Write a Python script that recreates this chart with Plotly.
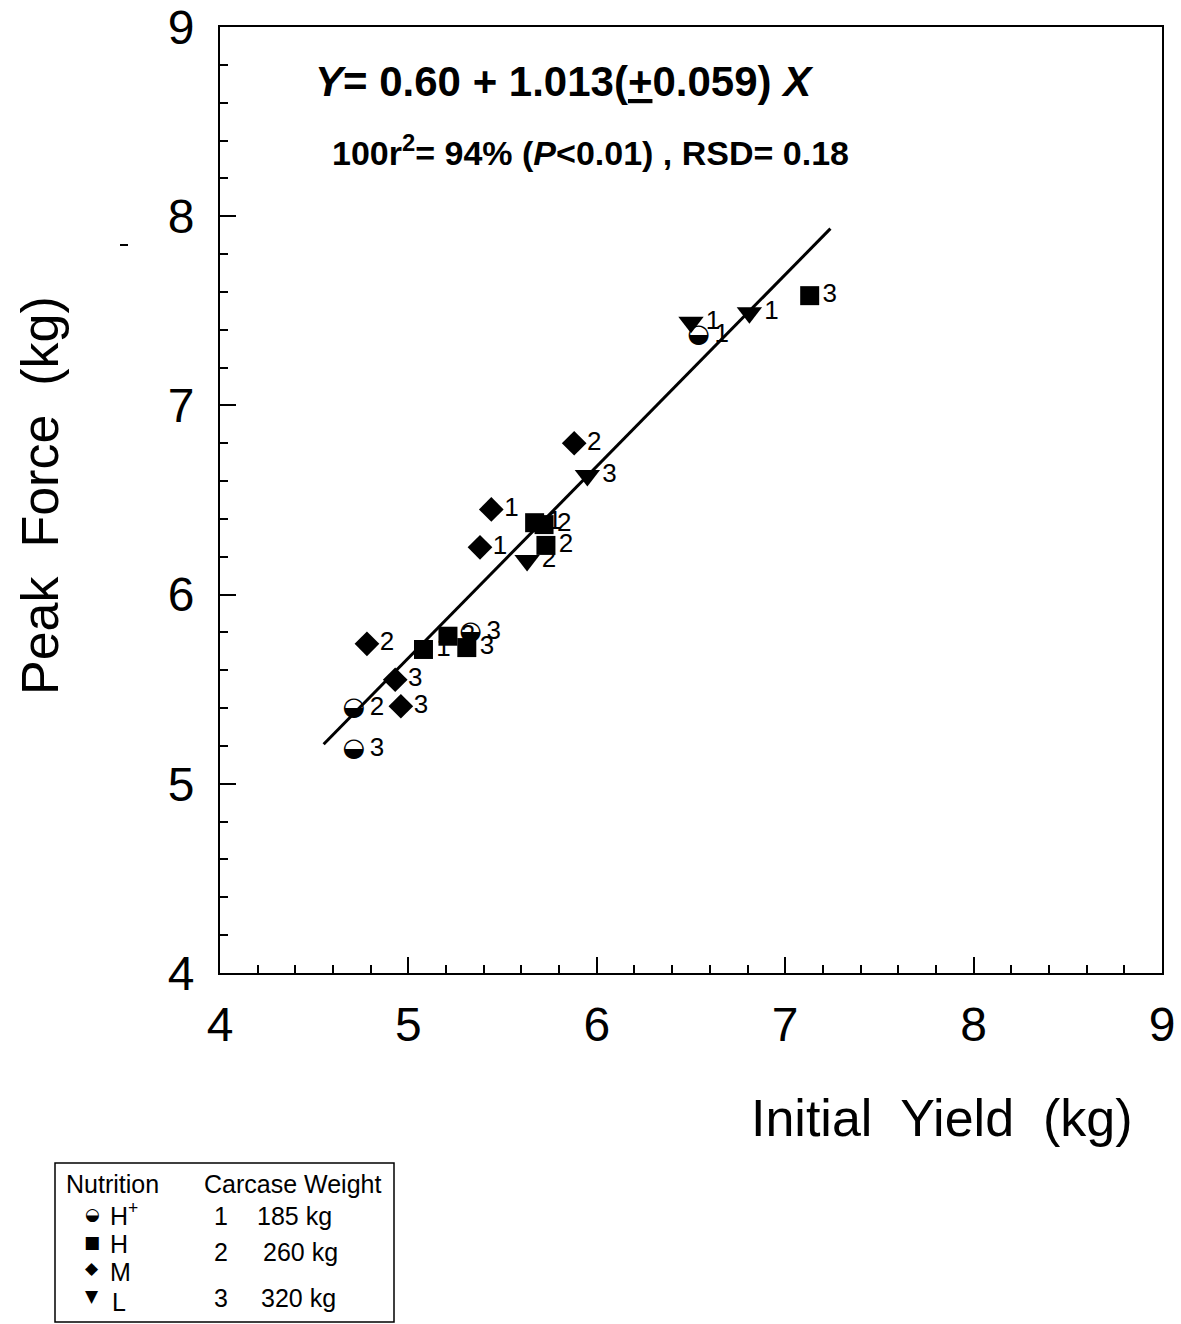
import plotly.graph_objects as go

# ---------------- data ----------------
# Nutrition H+ (half-filled circle)
hp_x = [4.71, 4.71, 6.54, 5.33]
hp_y = [5.40, 5.18, 7.37, 5.80]
hp_lab = ["2", "3", "1", "3"]

# Nutrition H (filled square)
h_x = [5.08, 5.21, 5.31, 5.67, 5.72, 5.73, 7.13]
h_y = [5.71, 5.78, 5.72, 6.38, 6.37, 6.26, 7.58]
h_lab = ["1", "2", "3", "1", "2", "2", "3"]

# Nutrition M (filled diamond)
m_x = [4.78, 4.93, 4.96, 5.38, 5.44, 5.88]
m_y = [5.74, 5.55, 5.41, 6.25, 6.45, 6.80]
m_lab = ["2", "3", "3", "1", "1", "2"]

# Nutrition L (filled down-triangle)
l_x = [6.50, 6.81, 5.95, 5.63]
l_y = [7.44, 7.49, 6.63, 6.18]
l_lab = ["1", "1", "3", "2"]

# regression Y = a + b X
intercept = 0.60
slope = 1.013
line_x = [4.55, 7.24]
line_y = [intercept + slope * v for v in line_x]

x_ticks = [4, 5, 6, 7, 8, 9]
y_ticks = [4, 5, 6, 7, 8, 9]

W, H = 1181, 1324
FONT = "Liberation Sans, Arial, Helvetica, sans-serif"
NARROW = "Liberation Sans Narrow, Arial Narrow, Liberation Sans, Arial, sans-serif"
SYM = "DejaVu Sans, sans-serif"

fig = go.Figure()

# regression line
fig.add_trace(go.Scatter(x=line_x, y=line_y, mode="lines",
                         line=dict(color="black", width=3), hoverinfo="skip"))

lab_font = dict(family=FONT, size=26, color="black")

# H+ : glyph + label
fig.add_trace(go.Scatter(x=hp_x, y=hp_y, mode="markers+text", text=hp_lab,
                         textposition="middle right", textfont=lab_font,
                         marker=dict(size=24, color="rgba(0,0,0,0)")))
fig.add_trace(go.Scatter(x=hp_x, y=hp_y, mode="text", text=["◒"] * len(hp_x),
                         textposition="middle center",
                         textfont=dict(family=SYM, size=26, color="black")))
# H
fig.add_trace(go.Scatter(x=h_x, y=h_y, mode="markers+text", text=h_lab,
                         textposition="middle right", textfont=lab_font,
                         marker=dict(symbol="square", size=19, color="black")))
# M
fig.add_trace(go.Scatter(x=m_x, y=m_y, mode="markers+text", text=m_lab,
                         textposition="middle right", textfont=lab_font,
                         marker=dict(symbol="diamond", size=19, color="black")))
# L
fig.add_trace(go.Scatter(x=l_x, y=l_y, mode="markers+text", text=l_lab,
                         textposition="middle right", textfont=lab_font,
                         marker=dict(symbol="triangle-down", size=22, color="black")))

axis_common = dict(
    automargin=False,
    showgrid=False, zeroline=False, showline=True, linecolor="black", linewidth=2,
    mirror=True, ticks="inside", ticklen=16, tickwidth=2, tickcolor="black",
    minor=dict(dtick=0.2, ticks="inside", ticklen=8, tickwidth=1.5, tickcolor="black"),
    tickfont=dict(family=FONT, size=48, color="black"),
)

fig.update_layout(
    template="none",
    width=W, height=H, showlegend=False,
    paper_bgcolor="white", plot_bgcolor="rgba(0,0,0,0)",
    margin=dict(l=0, r=0, t=0, b=0, autoexpand=False),
    xaxis=dict(range=[4, 9], tickvals=x_ticks, domain=[220 / W, 1162 / W],
               ticklabelstandoff=8, **axis_common),
    yaxis=dict(range=[4, 9], tickvals=y_ticks, domain=[1 - 973 / H, 1 - 27 / H],
               ticklabelstandoff=14, **axis_common),
)

def px(x):
    return x / W

def py(y):
    return 1 - y / H

ann = []
# equation text
ann.append(dict(x=px(313), y=py(82), xref="paper", yref="paper", xanchor="left", yanchor="middle",
                text="<b><i>Y</i>= 0.60 + 1.013(<u>+</u>0.059) <i>X</i></b>", showarrow=False,
                font=dict(family=NARROW, size=42, color="black")))
ann.append(dict(x=px(330), y=py(150), xref="paper", yref="paper", xanchor="left", yanchor="middle",
                text="<b>100r<sup>2</sup>= 94% (<i>P</i><0.01) , RSD= 0.18</b>", showarrow=False,
                font=dict(family=NARROW, size=34, color="black")))
# axis titles
ann.append(dict(x=px(1135), y=py(1118), xref="paper", yref="paper", xanchor="right", yanchor="middle",
                text="Initial  Yield  (kg)", showarrow=False,
                font=dict(family=FONT, size=52, color="black")))
ann.append(dict(x=px(40), y=py(496), xref="paper", yref="paper", xanchor="center", yanchor="middle",
                text="Peak  Force  (kg)", textangle=-90, showarrow=False,
                font=dict(family=FONT, size=52, color="black")))

# legend box contents
leg_font = dict(family=NARROW, size=25, color="black")
def t(x, y, s, anchor="left", font=leg_font):
    ann.append(dict(x=px(x), y=py(y), xref="paper", yref="paper", xanchor=anchor, yanchor="middle",
                    text=s, showarrow=False, font=font))

t(64, 1184, "Nutrition")
t(202, 1184, "Carcase Weight")
sym_font = dict(family=SYM, size=17, color="black")
t(92, 1214, "◒", "center", sym_font)
t(92, 1242, "■", "center", sym_font)
t(92, 1268, "◆", "center", sym_font)
t(92, 1296, "▼", "center", sym_font)
t(108, 1214, "H<sup>+</sup>")
t(108, 1244, "H")
t(108, 1272, "M")
t(110, 1302, "L")
t(212, 1216, "1")
t(212, 1252, "2")
t(212, 1298, "3")
t(255, 1216, "185 kg")
t(261, 1252, "260 kg")
t(259, 1298, "320 kg")

fig.update_layout(annotations=ann)

fig.add_shape(type="rect", xref="paper", yref="paper",
              x0=px(55), x1=px(394), y0=py(1322), y1=py(1163),
              line=dict(color="black", width=1.5), fillcolor="rgba(0,0,0,0)")
# small stray dash at left of the figure
fig.add_shape(type="line", xref="paper", yref="paper",
              x0=px(120), x1=px(128), y0=py(245), y1=py(245),
              line=dict(color="black", width=2))

fig.write_html("out.html")
